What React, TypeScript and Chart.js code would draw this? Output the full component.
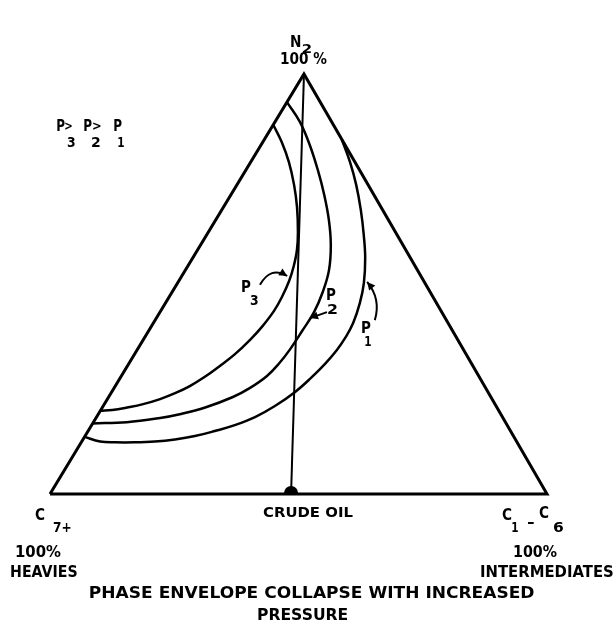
import React, { useEffect, useRef } from "react";
import { Chart, registerables } from "chart.js";

Chart.register(...registerables);

// Ternary compositions: [N2 %, C1-C6 (intermediates) %]; heavies C7+ = remainder
const CORNER_HEAVIES: [number, number] = [0, 0];
const CORNER_INTERMEDIATES: [number, number] = [0, 100];
const CORNER_N2: [number, number] = [100, 0];
const CRUDE_OIL: [number, number] = [0, 48.5];

const P1_ENVELOPE: [number, number][] = [
  [84.5, 15.5], [79.0, 20.0], [73.6, 24.0], [67.6, 28.0], [61.7, 31.6], [56.2, 34.7],
  [50.2, 37.5], [45.5, 39.1], [40.7, 40.2], [37.1, 40.4], [34.3, 40.2], [31.0, 39.5],
  [27.4, 38.3], [24.3, 36.9], [21.0, 34.6], [18.3, 31.9], [16.4, 28.8], [15.0, 25.5],
  [13.8, 22.1], [13.0, 18.5], [12.5, 14.7], [12.3, 10.8], [12.3, 6.8], [12.5, 3.7],
  [13.6, 0],
];
const P2_ENVELOPE: [number, number][] = [
  [93.3, 0], [88.6, 5.0], [83.1, 9.8], [77.1, 14.5], [71.2, 18.8], [65.2, 22.8],
  [59.3, 26.2], [53.3, 28.9], [48.1, 30.3], [43.3, 31.0], [38.8, 30.9], [34.5, 30.7],
  [31.0, 30.2], [28.1, 29.3], [25.2, 27.3], [23.1, 25.0], [20.6, 20.7], [19.0, 16.4],
  [18.1, 12.9], [17.1, 6.7], [16.8, 0],
];
const P3_ENVELOPE: [number, number][] = [
  [87.9, 0], [83.8, 3.8], [79.0, 7.7], [73.6, 11.5], [68.3, 14.8], [62.4, 18.0],
  [58.1, 20.0], [54.3, 21.3], [50.7, 22.2], [46.9, 22.7], [43.6, 22.8], [39.8, 22.3],
  [36.7, 21.5], [33.3, 20.2], [30.5, 18.6], [27.9, 16.9], [25.7, 15.0], [24.0, 12.9],
  [22.6, 10.6], [21.4, 7.8], [20.6, 5.0], [20.0, 2.3], [19.8, 0],
];

// Arrows pointing from each pressure label to its envelope (start, mid, tip)
const P1_ARROW: [number, number][] = [[41.4, 44.2], [46.2, 42.0], [50.5, 38.0]];
const P2_ARROW: [number, number][] = [[43.3, 33.6], [42.6, 32.3], [41.9, 30.9]];
const P3_ARROW: [number, number][] = [[49.8, 16.8], [52.6, 17.8], [51.9, 21.2]];

const SKEW = 0.511; // apex offset of the drawn triangle along the base
const FONT = '"DejaVu Sans", sans-serif';

type Lbl = { t: string; x: number; y: number; s: number; w?: number };
const LABELS: Lbl[] = [
  { t: "N", x: 291, y: 47, s: 15, w: 10 },
  { t: "2", x: 303, y: 53, s: 13, w: 8 },
  { t: "100 %", x: 281, y: 64, s: 15, w: 46 },
  { t: "P", x: 57, y: 131, s: 15, w: 8 },
  { t: ">", x: 65, y: 130, s: 13, w: 7 },
  { t: "P", x: 84, y: 131, s: 15, w: 8 },
  { t: ">", x: 93, y: 130, s: 13, w: 8 },
  { t: "P", x: 114, y: 131, s: 15, w: 8 },
  { t: "3", x: 67, y: 147, s: 14, w: 8 },
  { t: "2", x: 92, y: 147, s: 14, w: 8 },
  { t: "1", x: 118, y: 147, s: 14, w: 6 },
  { t: "P", x: 242, y: 292, s: 15, w: 9 },
  { t: "3", x: 250, y: 305, s: 14, w: 8 },
  { t: "P", x: 327, y: 300, s: 15, w: 9 },
  { t: "2", x: 328, y: 314, s: 14, w: 9 },
  { t: "P", x: 362, y: 333, s: 15, w: 9 },
  { t: "1", x: 365, y: 346, s: 14, w: 6 },
  { t: "C", x: 35, y: 520, s: 15, w: 10 },
  { t: "7+", x: 53, y: 532, s: 14, w: 18 },
  { t: "100%", x: 16, y: 557, s: 15, w: 45 },
  { t: "HEAVIES", x: 11, y: 577, s: 15, w: 66 },
  { t: "CRUDE OIL", x: 263, y: 517, s: 14, w: 90 },
  { t: "C", x: 502, y: 520, s: 15, w: 10 },
  { t: "1", x: 512, y: 532, s: 14, w: 6 },
  { t: "-", x: 527, y: 527, s: 14, w: 8 },
  { t: "C", x: 539, y: 518, s: 15, w: 10 },
  { t: "6", x: 553, y: 532, s: 14, w: 10 },
  { t: "100%", x: 514, y: 557, s: 15, w: 43 },
  { t: "INTERMEDIATES", x: 481, y: 577, s: 15, w: 132 },
  { t: "PHASE ENVELOPE COLLAPSE WITH INCREASED", x: 90, y: 598, s: 15, w: 444 },
  { t: "PRESSURE", x: 258, y: 620, s: 15, w: 90 },
];

const toXY = ([n2, inter]: [number, number]) => ({ x: inter + SKEW * n2, y: n2 });

const annotations = {
  id: "annotations",
  afterDatasetsDraw(chart: any) {
    const ctx: CanvasRenderingContext2D = chart.ctx;
    const xs = chart.scales.x;
    const ys = chart.scales.y;
    const P = (c: [number, number]) => {
      const p = toXY(c);
      return [xs.getPixelForValue(p.x), ys.getPixelForValue(p.y)];
    };
    ctx.save();
    ctx.fillStyle = "#000";
    ctx.strokeStyle = "#000";
    // crude oil dome
    const [cx, cy] = P(CRUDE_OIL);
    ctx.beginPath();
    ctx.arc(cx, cy - 1, 7, Math.PI, 0);
    ctx.closePath();
    ctx.fill();
    // arrows
    for (const arr of [P1_ARROW, P2_ARROW, P3_ARROW]) {
      const [a, m, b] = arr.map(P);
      const c = [2 * m[0] - (a[0] + b[0]) / 2, 2 * m[1] - (a[1] + b[1]) / 2];
      ctx.lineWidth = 2;
      ctx.beginPath();
      ctx.moveTo(a[0], a[1]);
      ctx.quadraticCurveTo(c[0], c[1], b[0], b[1]);
      ctx.stroke();
      const ang = Math.atan2(b[1] - c[1], b[0] - c[0]);
      const L = 8, W = 4;
      ctx.beginPath();
      ctx.moveTo(b[0], b[1]);
      ctx.lineTo(b[0] - L * Math.cos(ang) + W * Math.sin(ang), b[1] - L * Math.sin(ang) - W * Math.cos(ang));
      ctx.lineTo(b[0] - L * Math.cos(ang) - W * Math.sin(ang), b[1] - L * Math.sin(ang) + W * Math.cos(ang));
      ctx.closePath();
      ctx.fill();
    }
    // text
    ctx.textBaseline = "alphabetic";
    ctx.textAlign = "left";
    for (const l of LABELS) {
      ctx.save();
      ctx.font = `bold ${l.s}px ${FONT}`;
      const m = ctx.measureText(l.t);
      const mw = m.actualBoundingBoxRight + m.actualBoundingBoxLeft;
      ctx.translate(l.x, l.y);
      if (l.w && mw > 0) {
        ctx.scale(l.w / mw, 1);
        ctx.fillText(l.t, m.actualBoundingBoxLeft, 0);
      } else {
        ctx.fillText(l.t, 0, 0);
      }
      ctx.restore();
    }
    ctx.restore();
  },
};

export default function App() {
  const ref = useRef<HTMLCanvasElement | null>(null);
  useEffect(() => {
    if (!ref.current) return;
    const line = (pts: [number, number][], width: number, tension: number) => ({
      data: pts.map(toXY),
      borderColor: "#000",
      borderWidth: width,
      pointRadius: 0,
      showLine: true,
      tension,
      fill: false,
      clip: false as any,
      borderJoinStyle: "miter" as const,
    });
    const chart = new Chart(ref.current, {
      type: "scatter",
      data: {
        datasets: [
          line([CORNER_HEAVIES, CORNER_INTERMEDIATES, CORNER_N2, CORNER_HEAVIES], 3, 0),
          line([CRUDE_OIL, CORNER_N2], 2, 0),
          line(P1_ENVELOPE, 2.5, 0.4),
          line(P2_ENVELOPE, 2.5, 0.4),
          line(P3_ENVELOPE, 2.5, 0.4),
        ] as any,
      },
      options: {
        animation: false,
        responsive: false,
        events: [],
        layout: { padding: { left: 50, right: 67, top: 74, bottom: 132 } },
        scales: {
          x: { type: "linear", min: 0, max: 100, display: false },
          y: { type: "linear", min: 0, max: 100, display: false },
        },
        plugins: { legend: { display: false }, tooltip: { enabled: false } },
      },
      plugins: [annotations],
    });
    return () => chart.destroy();
  }, []);
  return (
    <div style={{ position: "absolute", left: 0, top: 0, width: 614, height: 626, background: "#fff" }}>
      <canvas ref={ref} width={614} height={626} />
    </div>
  );
}
